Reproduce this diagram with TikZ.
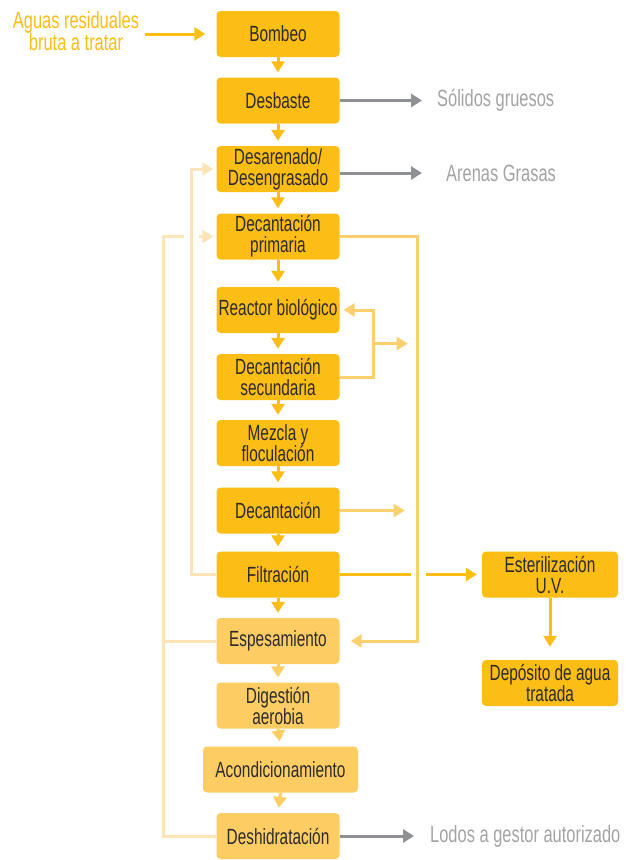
\documentclass[tikz,border=0pt]{standalone}
\usepackage{fontspec}
\setmainfont[FakeStretch=0.7]{Liberation Sans}
\usepackage{tikz}
\usetikzlibrary{arrows.meta,calc}

\definecolor{amarillo}{HTML}{FCBD15}
\definecolor{amarilloclaro}{HTML}{FDCD63}
\definecolor{lineamedia}{HTML}{FDD06F}
\definecolor{lineapalida}{HTML}{FDE4B8}
\definecolor{grisflecha}{HTML}{8F9094}
\definecolor{gristexto}{HTML}{A3A3A3}
\definecolor{textocaja}{HTML}{2B2B2B}

\tikzset{
  etapa/.style={fill=amarillo, rounded corners=4pt, minimum width=123pt, minimum height=46pt,
    inner sep=0pt, align=center, text=textocaja, font=\fontsize{22}{21}\selectfont},
  etapalodo/.style={etapa, fill=amarilloclaro},
  salida/.style={anchor=west, inner sep=0pt, text=gristexto, font=\fontsize{23.5}{22}\selectfont},
  punta/.style={-{Triangle[length=11pt,width=13pt]}},
  lineaprin/.style={draw=amarillo, line width=3pt},
  lineaclara/.style={draw=amarilloclaro, line width=3pt},
  lineamed/.style={draw=lineamedia, line width=3pt},
  lineapal/.style={draw=lineapalida, line width=3pt},
  lineagris/.style={draw=grisflecha, line width=3pt},
}

\begin{document}
\begin{tikzpicture}[x=1pt, y=-1pt]
  \useasboundingbox (0,0) rectangle (625,860);

  % linea de agua
  \node[etapa] (bombeo) at (278,34) {Bombeo};
  \node[etapa] (desbaste) at (278,100.5) {Desbaste};
  \node[etapa] (desarenado) at (278,169) {Desarenado/\\Desengrasado};
  \node[etapa] (decprim) at (278,236.5) {Decantación\\primaria};
  \node[etapa] (reactor) at (278,310) {Reactor biológico};
  \node[etapa] (decsec) at (278,377) {Decantación\\secundaria};
  \node[etapa] (mezcla) at (278,443) {Mezcla y\\floculación};
  \node[etapa] (decant) at (278,510.5) {Decantación};
  \node[etapa] (filtr) at (278,574.5) {Filtración};
  \node[etapa, minimum width=136pt] (ester) at (550,574.5) {Esterilización\\U.V.};
  \node[etapa, minimum width=136pt] (deposito) at (550,683) {Depósito de agua\\tratada};

  % linea de fangos
  \node[etapalodo] (espes) at (278,641) {Espesamiento};
  \node[etapalodo] (digest) at (278,705.5) {Digestión\\aerobia};
  \node[etapalodo, minimum width=155pt] (acond) at (280.5,769.5) {Acondicionamiento};
  \node[etapalodo] (deshid) at (278,836) {Deshidratación};

  % entradas y salidas
  \node[inner sep=0pt, align=center, text=amarillo, font=\fontsize{23.5}{22}\selectfont] (entrada) at (76,31)
    {Aguas residuales\\bruta a tratar};
  \node[salida] (solidos) at (437,100.5) {Sólidos gruesos};
  \node[salida] (arenas) at (446,173) {Arenas Grasas};
  \node[salida] (lodos) at (430,836) {Lodos a gestor autorizado};

  \draw[lineaprin, punta, shorten >=11pt] ([xshift=6pt]entrada.east |- bombeo.west) -- (bombeo.west);

  \foreach \a/\b in {bombeo/desbaste, desbaste/desarenado, desarenado/decprim, decprim/reactor,
                     reactor/decsec, decsec/mezcla, mezcla/decant, decant/filtr, filtr/espes}
    \draw[lineaprin, punta, shorten >=5pt] (\a.south) -- (\b.north);
  \foreach \a/\b in {espes/digest, digest/acond, acond/deshid}
    \draw[lineaclara, punta, shorten >=5pt] (\a.south) -- (\b.north);

  \draw[lineagris, punta, shorten >=15pt] (desbaste.east) -- (solidos.west);
  \draw[lineagris, punta, shorten >=24pt] (desarenado.east |- arenas.west) -- (arenas.west);
  \draw[lineagris, punta, shorten >=16pt] (deshid.east) -- (lodos.west);

  % fangos primarios a espesamiento
  \draw[lineamed, punta] (decprim.east) -- ++(78,0) |- ([xshift=11pt]espes.east);

  % recirculacion de fangos
  \draw[lineamed, punta] (decsec.east) -- ++(34,0) |- ([xshift=4pt]reactor.east);
  \coordinate (rama) at ($(reactor.east)!0.5!(decsec.east)+(34,0)$);
  \draw[lineamed, punta] (rama) -- ++(34,0);
  \draw[lineamed, punta] (decant.east) -- ++(65,0);

  % agua a esterilizar
  \draw[lineaprin] (filtr.east) -- ++(71,0);
  \draw[lineaprin, punta] ([xshift=-56pt]ester.west) -- ([xshift=-5pt]ester.west);
  \draw[lineaprin, punta, shorten >=13pt] (ester.south) -- (deposito.north);

  % retornos
  \draw[lineapal, punta] (filtr.west) -- ++(-25,0) |- ([xshift=-3pt]desarenado.west);
  \draw[lineapal] (deshid.west) -| ([xshift=-53pt]decprim.west) -- ([xshift=-32pt]decprim.west);
  \draw[lineapal] (espes.west) -- ++(-53,0);
  \draw[lineapal, punta] ([xshift=-17pt]decprim.west) -- ([xshift=-3pt]decprim.west);
\end{tikzpicture}
\end{document}
